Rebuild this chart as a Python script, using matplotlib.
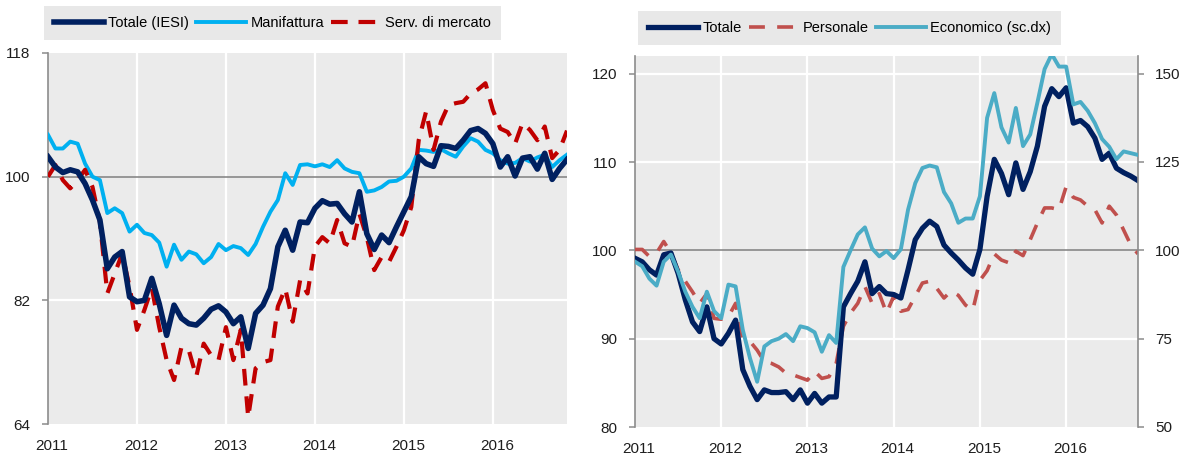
import numpy as np
import matplotlib
matplotlib.use("Agg")
import matplotlib.pyplot as plt
import matplotlib.transforms as mtransforms

plt.rcParams['font.family'] = ['Liberation Sans Narrow', 'Liberation Sans', 'DejaVu Sans']

# monthly series, Jan 2011 - Nov 2016
years = ['2011', '2012', '2013', '2014', '2015', '2016']

totale_iesi = [102.9, 101.4, 100.6, 101.0, 100.7, 99.0, 96.6, 93.7, 86.6, 88.3,
               89.1, 82.5, 81.8, 82.0, 85.2, 81.5, 76.9, 81.3, 79.4, 78.6,
               78.4, 79.4, 80.7, 81.2, 80.3, 78.6, 79.6, 75.0, 80.1, 81.3,
               83.7, 89.8, 92.2, 89.3, 93.4, 93.3, 95.4, 96.5, 96.0, 96.1,
               94.6, 93.4, 97.8, 91.7, 89.4, 91.5, 90.4, 92.7, 94.9, 97.1,
               102.9, 101.9, 101.5, 104.5, 104.4, 104.1, 105.3, 106.7, 107.0, 106.3,
               104.8, 101.4, 102.9, 100.1, 102.7, 102.9, 101.1, 103.4, 99.6, 101.2,
               102.5]
manifattura = [106.1, 104.1, 104.1, 105.1, 104.8, 101.9, 100.0, 99.5, 94.7, 95.4,
               94.7, 92.0, 93.0, 91.8, 91.5, 90.4, 86.9, 90.1, 87.9, 89.1,
               88.7, 87.4, 88.3, 90.2, 89.3, 89.9, 89.6, 88.6, 90.2, 92.7,
               94.9, 96.6, 100.5, 98.8, 101.7, 101.8, 101.5, 101.8, 101.4, 102.4,
               101.2, 100.7, 100.5, 97.8, 98.0, 98.5, 99.3, 99.4, 100.0, 101.2,
               103.9, 103.8, 103.6, 104.0, 103.4, 102.9, 104.4, 105.6, 105.1, 103.9,
               103.4, 102.4, 101.9, 102.0, 102.7, 102.2, 102.8, 103.2, 101.4, 102.4,
               103.2]
serv_mercato = [100.0, 101.7, 99.5, 98.3, 99.5, 101.0, 98.5, 93.4, 83.0, 85.9,
                88.8, 84.0, 77.7, 80.6, 83.8, 78.1, 73.3, 70.4, 75.2, 74.7,
                70.9, 75.7, 74.0, 73.3, 78.1, 73.3, 77.7, 65.0, 72.1, 73.0,
                73.3, 81.1, 83.7, 78.9, 84.9, 83.0, 89.8, 91.2, 90.3, 93.7,
                90.3, 89.8, 94.6, 91.2, 86.4, 88.3, 87.6, 89.8, 92.2, 95.6,
                105.3, 109.5, 103.9, 108.0, 110.4, 110.7, 110.9, 112.1, 112.7, 113.6,
                109.7, 107.0, 106.5, 104.8, 107.8, 106.8, 105.3, 107.3, 102.7, 103.9,
                106.7]

totale = [99.1, 98.7, 97.8, 97.2, 99.5, 99.7, 97.4, 94.4, 91.9, 90.8,
          93.6, 90.0, 89.4, 90.6, 92.1, 86.5, 84.6, 83.1, 84.2, 83.9,
          83.9, 84.0, 83.1, 84.2, 82.7, 83.8, 82.7, 83.4, 83.4, 93.6,
          95.1, 96.5, 98.7, 95.1, 95.9, 95.1, 95.0, 94.6, 97.8, 101.2,
          102.5, 103.3, 102.7, 100.6, 99.7, 98.9, 98.0, 97.3, 100.1, 106.1,
          110.3, 108.7, 106.3, 109.9, 106.9, 108.9, 111.8, 116.3, 118.3, 117.4,
          118.4, 114.4, 114.7, 114.0, 112.7, 110.3, 111.0, 109.3, 108.8, 108.4,
          107.9]
personale = [100.1, 100.1, 99.3, 99.7, 101.0, 99.7, 97.8, 96.5, 95.3, 94.0,
             95.1, 92.3, 92.2, 92.5, 94.0, 90.0, 89.7, 88.7, 87.4, 87.2,
             86.8, 86.1, 85.9, 85.6, 85.3, 86.3, 85.5, 85.7, 87.2, 91.4,
             92.9, 94.0, 95.9, 94.0, 95.1, 92.9, 94.8, 93.1, 93.3, 94.8,
             96.3, 96.5, 95.7, 94.6, 95.4, 94.9, 93.8, 93.2, 96.6, 97.7,
             99.6, 98.9, 98.6, 99.9, 99.4, 101.2, 103.1, 104.8, 104.8, 104.6,
             107.2, 106.0, 105.7, 105.0, 104.6, 103.1, 105.0, 104.0, 102.3, 100.6,
             99.6]
economico = [96.8, 95.5, 92.0, 90.0, 96.8, 98.8, 94.0, 88.3, 84.0, 80.8,
             88.3, 82.8, 80.8, 90.3, 89.8, 77.5, 69.5, 62.8, 72.8, 74.3,
             75.0, 76.3, 74.3, 78.5, 78.0, 76.8, 71.3, 76.0, 73.8, 95.3,
             100.0, 104.5, 106.5, 100.5, 98.3, 99.8, 97.8, 100.3, 111.5, 119.0,
             123.3, 124.0, 123.5, 116.5, 113.3, 107.8, 109.0, 109.0, 115.3, 137.5,
             144.5, 134.8, 130.5, 140.3, 129.5, 132.8, 141.8, 151.3, 155.5, 152.0,
             152.0, 141.3, 142.0, 139.5, 136.0, 131.5, 129.3, 125.8, 128.0, 127.5,
             127.0]

months = np.arange(len(totale_iesi))
year_pos = np.arange(len(years)) * 12

W, H = 1189, 459
bg = '#EBEBEB'
spine_col = '#8C8C8C'
text_col = '#1E1E1E'

fig = plt.figure(figsize=(W / 100, H / 100), dpi=100)


def style_axes(ax, ylim, yticks, hgrid):
    ax.set_facecolor(bg)
    ax.set_xlim(0, 70)
    ax.set_ylim(*ylim)
    ax.set_yticks(yticks)
    ax.set_xticks(year_pos)
    ax.set_xticklabels(years)
    for x in year_pos[1:]:
        ax.axvline(x, color='white', lw=1.6, zorder=1)
    for y in hgrid:
        ax.axhline(y, color='white', lw=1.6, zorder=1)
    ax.axhline(100, color='#7F7F7F', lw=1.1, zorder=2)
    for s in ['top', 'right', 'bottom']:
        ax.spines[s].set_visible(False)
    ax.spines['left'].set_color(spine_col)
    ax.spines['left'].set_linewidth(1.2)
    ax.tick_params(axis='y', direction='out', length=4.5, width=1.1, color=spine_col,
                   labelsize=11, labelcolor=text_col, pad=8)
    ax.tick_params(axis='x', length=0, labelsize=11, labelcolor=text_col, pad=11)
    shift = mtransforms.ScaledTranslation(4 / 100, 0, fig.dpi_scale_trans)
    for lab in ax.get_xticklabels():
        lab.set_transform(lab.get_transform() + shift)


legend_kw = dict(loc='center left', ncol=3, bbox_transform=fig.transFigure,
                 frameon=True, facecolor='#E8E8E8', edgecolor='none', fancybox=False,
                 framealpha=1, fontsize=10.5, handlelength=3.4, handletextpad=0.3,
                 columnspacing=0.5, borderpad=0.7, borderaxespad=0)

# left panel: IESI
ax1 = fig.add_axes([48 / W, 35 / H, 519 / W, 371 / H])
style_axes(ax1, (64, 118), [64, 82, 100, 118], [82])
l1, = ax1.plot(months, totale_iesi, color='#002060', lw=4.0, zorder=4,
               solid_joinstyle='round', label='Totale (IESI)')
l2, = ax1.plot(months, manifattura, color='#00B0F0', lw=2.8, zorder=3,
               solid_joinstyle='round', label='Manifattura')
l3, = ax1.plot(months, serv_mercato, color='#C00000', lw=3.0, zorder=3,
               dashes=(4.0, 2.6), label='Serv. di mercato')
ax1.legend(handles=[l1, l2, l3], bbox_to_anchor=(44 / W, 436 / H), **legend_kw)

# right panel: fiducia consumatori
ax2 = fig.add_axes([635 / W, 32 / H, 503 / W, 371 / H])
style_axes(ax2, (80, 122), [80, 90, 100, 110, 120], [90, 110, 120])
r1, = ax2.plot(months, totale, color='#002060', lw=3.8, zorder=4,
               solid_joinstyle='round', label='Totale')
r2, = ax2.plot(months, personale, color='#C0504D', lw=2.6, zorder=3,
               dashes=(4.4, 3.4), label='Personale')

ax2r = ax2.twinx()
ax2r.set_ylim(50, 155)
ax2r.set_yticks([50, 75, 100, 125, 150])
r3, = ax2r.plot(months, economico, color='#4BACC6', lw=2.8, zorder=3,
                solid_joinstyle='round', label='Economico (sc.dx)')
for s in ['top', 'left', 'bottom']:
    ax2r.spines[s].set_visible(False)
ax2r.spines['right'].set_color(spine_col)
ax2r.spines['right'].set_linewidth(1.2)
ax2r.tick_params(axis='y', direction='out', length=4.5, width=1.1, color=spine_col,
                 labelsize=11, labelcolor=text_col, pad=8)
ax2r.legend(handles=[r1, r2, r3], bbox_to_anchor=(638 / W, 431 / H), **legend_kw)

fig.savefig('out.png', dpi=100)
